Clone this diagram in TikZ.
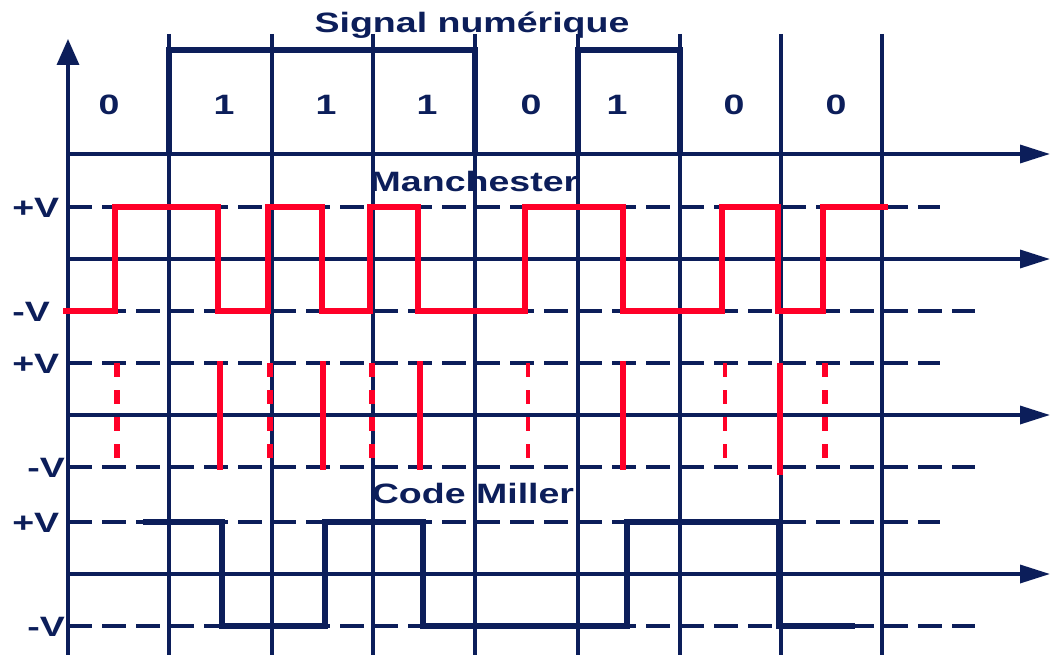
\documentclass[tikz,border=0pt]{standalone}
\usepackage{fontspec}
\setmainfont{Liberation Sans}
\usetikzlibrary{arrows.meta}
\definecolor{navy}{RGB}{12,30,90}
\definecolor{sred}{RGB}{255,0,40}
\begin{document}
\begin{tikzpicture}[x=1pt,y=-1pt,
  gridl/.style={navy,line width=3.4pt},
  axarrow/.style={navy,line width=3.4pt,-{Triangle[length=30pt,width=18pt]}},
  lvl/.style={navy,line width=3.2pt,dash pattern=on 24pt off 10pt},
  sig/.style={navy,line width=5.5pt,line join=miter},
  mwave/.style={sred,line width=6pt,line join=miter},
  pulse/.style={sred,line width=5.5pt},
  dpulse/.style={sred,line width=5.5pt,dash pattern=on 14pt off 13pt},
  tpulse/.style={sred,line width=3.5pt,dash pattern=on 14pt off 13pt},
  lab/.style={text=navy,font=\bfseries\fontsize{28}{28}\selectfont,inner sep=0pt,xscale=1.34,anchor=base},
  vlab/.style={lab,anchor=base west}]
\useasboundingbox (0,0) rectangle (1051,655);
% named points
\coordinate (o) at (68,655);
\coordinate (ytip) at (68,39);
\foreach \n/\y in {a/154,b/259,c/415,d/574}{
  \coordinate (\n0) at (68,\y);
  \coordinate (\n1) at (1050,\y);
}
% vertical grid
\foreach \x in {169,272,373,475,578,680,781,882}
  \draw[gridl] (\x,34) -- (\x,655);
% level dashed lines
\foreach \y in {207,363,522} \draw[lvl] (68,\y) -- (940,\y);
\foreach \y in {311,467,626} \draw[lvl] (68,\y) -- (975,\y);
% axes
\draw[navy,line width=3.4pt,-{Triangle[length=26pt,width=22pt]}] (o) -- (ytip);
\foreach \n in {a,b,c,d} \draw[axarrow] (\n0) -- (\n1);
% digital signal
\draw[sig] (169,154) -- (169,50) -- (475,50) -- (475,154);
\draw[sig] (578,154) -- (578,50) -- (680,50) -- (680,154);
% Manchester
\draw[mwave] (63,311) -- (115,311) -- (115,207) -- (218,207) -- (218,311) -- (268,311)
  -- (268,207) -- (322,207) -- (322,311) -- (370,311) -- (370,207) -- (418,207)
  -- (418,311) -- (525,311) -- (525,207) -- (623,207) -- (623,311) -- (722,311)
  -- (722,207) -- (778,207) -- (778,311) -- (823,311) -- (823,207) -- (888,207);
% pulses
\foreach \x in {117,270,372,825} \draw[dpulse] (\x,363) -- (\x,460);
\foreach \x in {528,725} \draw[tpulse] (\x,363) -- (\x,460);
\foreach \x in {220,323,420,623} \draw[pulse] (\x,361) -- (\x,470);
\draw[pulse] (780,363) -- (780,475);
% Miller
\draw[sig] (143,522) -- (222,522) -- (222,626) -- (325,626) -- (325,522) -- (423,522)
  -- (423,626) -- (627,626) -- (627,522) -- (779,522) -- (779,626) -- (855,626);
% texts
\node[lab] (title) at (472,33) {Signal numérique};
\node[lab] (b0) at (109,115) {0};
\node[lab] (b1) at (224,115) {1};
\node[lab] (b2) at (326,115) {1};
\node[lab] (b3) at (427,115) {1};
\node[lab] (b4) at (531,115) {0};
\node[lab] (b5) at (617,115) {1};
\node[lab] (b6) at (734,115) {0};
\node[lab] (b7) at (836,115) {0};
\node[lab] (manch) at (474,192) {Manchester};
\node[lab] (miller) at (473,503) {Code Miller};
\node[vlab] (p1) at (12,217) {+V};
\node[vlab] (m1) at (12,321) {-V};
\node[vlab] (p2) at (12,373) {+V};
\node[vlab] (m2) at (27,477) {-V};
\node[vlab] (p3) at (12,532) {+V};
\node[vlab] (m3) at (27,636) {-V};
\end{tikzpicture}
\end{document}
